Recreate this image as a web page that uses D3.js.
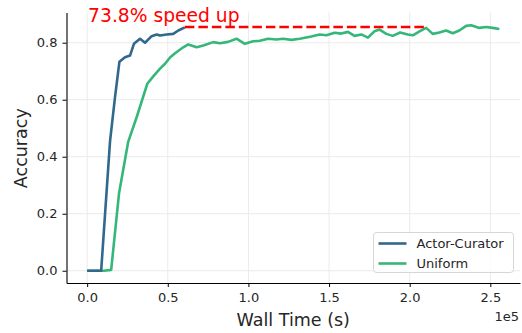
<!DOCTYPE html>
<head>
  <meta charset="utf-8">
  <title>Accuracy vs wall time</title>
  <style>
    body { margin: 0; background: #fff; }
    text { font-family: "DejaVu Sans", sans-serif; fill: #262626; }
  </style>
</head>

<body>
  <script src="https://d3js.org/d3.v7.min.js"></script>
  <script>
  // wall time in units of 1e5 s, accuracy in [0,1]
  const acTime = [0, 0.087, 0.142, 0.173, 0.2, 0.235, 0.266, 0.29, 0.328, 0.359, 0.40, 0.431, 0.452, 0.493, 0.534, 0.565, 0.606];
  const acAcc  = [0, 0, 0.455, 0.61, 0.733, 0.749, 0.755, 0.796, 0.814, 0.800, 0.823, 0.829, 0.825, 0.829, 0.831, 0.843, 0.854];

  const uniTime = [0, 0.062, 0.105, 0.149, 0.198, 0.254, 0.309, 0.373, 0.41, 0.452, 0.483, 0.514, 0.545, 0.596, 0.627, 0.679, 0.72, 0.782, 0.823, 0.874, 0.926, 0.978, 1.029, 1.071, 1.122, 1.174, 1.215, 1.267, 1.318, 1.39, 1.442, 1.483, 1.535, 1.576, 1.617, 1.658, 1.70, 1.741, 1.782, 1.813, 1.855, 1.895, 1.941, 1.988, 2.02, 2.061, 2.102, 2.143, 2.184, 2.226, 2.267, 2.308, 2.35, 2.381, 2.432, 2.473, 2.514, 2.556];
  const uniAcc  = [0, 0, 0, 0.003, 0.273, 0.451, 0.542, 0.656, 0.682, 0.709, 0.726, 0.748, 0.763, 0.784, 0.794, 0.784, 0.79, 0.802, 0.798, 0.803, 0.814, 0.796, 0.805, 0.807, 0.814, 0.811, 0.814, 0.81, 0.814, 0.822, 0.829, 0.826, 0.835, 0.832, 0.838, 0.824, 0.829, 0.818, 0.84, 0.846, 0.831, 0.824, 0.836, 0.829, 0.826, 0.84, 0.852, 0.831, 0.836, 0.843, 0.833, 0.843, 0.859, 0.861, 0.852, 0.855, 0.852, 0.848];

  const speedupX = [0.606, 2.102];
  const speedupY = 0.855;
  const speedupLabel = "73.8% speed up";

  const xTicks = [0, 0.5, 1.0, 1.5, 2.0, 2.5];
  const yTicks = [0, 0.2, 0.4, 0.6, 0.8];

  const seriesNames = ["Actor-Curator", "Uniform"];
  const seriesColors = ["#31688e", "#35b779"];

  const W = 522, H = 333;
  const m = { left: 66.5, right: 2, top: 12.5, bottom: 50 };

  const svg = d3.select("body").append("svg")
    .attr("width", W)
    .attr("height", H);

  const x = d3.scaleLinear().domain([-0.128, 2.684]).range([m.left, W - m.right]);
  const y = d3.scaleLinear().domain([-0.043, 0.906]).range([H - m.bottom, m.top]);

  // grid
  svg.append("g").selectAll("line").data(xTicks).enter().append("line")
    .attr("x1", d => x(d)).attr("x2", d => x(d))
    .attr("y1", m.top).attr("y2", H - m.bottom)
    .attr("stroke", "#ebebeb").attr("stroke-width", 1);
  svg.append("g").selectAll("line").data(yTicks).enter().append("line")
    .attr("x1", m.left).attr("x2", W - m.right)
    .attr("y1", d => y(d)).attr("y2", d => y(d))
    .attr("stroke", "#ebebeb").attr("stroke-width", 1);

  // axes
  const xAxis = svg.append("g")
    .attr("transform", `translate(0,${H - m.bottom})`)
    .call(d3.axisBottom(x).tickValues(xTicks).tickFormat(d3.format(".1f"))
      .tickSizeInner(4).tickSizeOuter(0).tickPadding(5.5));
  const yAxis = svg.append("g")
    .attr("transform", `translate(${m.left},0)`)
    .call(d3.axisLeft(y).tickValues(yTicks).tickFormat(d3.format(".1f"))
      .tickSizeInner(4).tickSizeOuter(0).tickPadding(5));
  [xAxis, yAxis].forEach(a => {
    a.select(".domain").attr("stroke", "#000").attr("stroke-width", 1.1);
    a.selectAll(".tick line").attr("stroke", "#000");
    a.selectAll(".tick text").style("font-size", "13px").attr("fill", "#262626");
  });

  // lines
  const line = d3.line().x(d => x(d[0])).y(d => y(d[1]));
  const acData = d3.zip(acTime, acAcc);
  const uniData = d3.zip(uniTime, uniAcc);

  svg.append("path").datum(uniData)
    .attr("d", line).attr("fill", "none")
    .attr("stroke", seriesColors[1]).attr("stroke-width", 2.6)
    .attr("stroke-linejoin", "round");
  svg.append("path").datum(acData)
    .attr("d", line).attr("fill", "none")
    .attr("stroke", seriesColors[0]).attr("stroke-width", 2.6)
    .attr("stroke-linejoin", "round");

  // speed-up marker
  svg.append("line")
    .attr("x1", x(speedupX[0])).attr("x2", x(speedupX[1]))
    .attr("y1", y(speedupY)).attr("y2", y(speedupY))
    .attr("stroke", "red").attr("stroke-width", 2.6)
    .attr("stroke-dasharray", "9.5,4");
  svg.append("text")
    .attr("x", x(0.006)).attr("y", 21.5)
    .style("font-size", "18.7px").style("fill", "red")
    .text(speedupLabel);

  // axis labels
  svg.append("text")
    .attr("x", x(1.278)).attr("y", 325.5)
    .attr("text-anchor", "middle")
    .style("font-size", "17.5px")
    .text("Wall Time (s)");
  svg.append("text")
    .attr("transform", `translate(26.5,${y(0.43)}) rotate(-90)`)
    .attr("text-anchor", "middle")
    .style("font-size", "17.5px")
    .text("Accuracy");
  svg.append("text")
    .attr("x", W - 3).attr("y", 321)
    .attr("text-anchor", "end")
    .style("font-size", "13px")
    .text("1e5");

  // legend
  const lg = svg.append("g").attr("transform", "translate(373.5,232.5)");
  lg.append("rect")
    .attr("width", 140).attr("height", 40).attr("rx", 3)
    .attr("fill", "#fff").attr("fill-opacity", 0.8)
    .attr("stroke", "#d6d6d6");
  seriesNames.forEach((name, i) => {
    const g = lg.append("g").attr("transform", `translate(0,${11 + i * 20})`);
    g.append("line").attr("x1", 5).attr("x2", 33)
      .attr("stroke", seriesColors[i]).attr("stroke-width", 2.6);
    g.append("text").attr("x", 43).attr("y", 4.5)
      .style("font-size", "13px").text(name);
  });
  </script>
</body>
</html>
